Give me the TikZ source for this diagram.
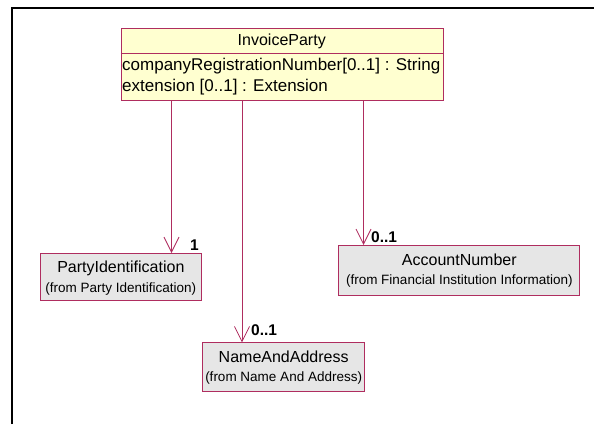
\documentclass[tikz,border=0pt]{standalone}
\usepackage{fontspec}
\setmainfont{Liberation Sans}
\usetikzlibrary{arrows.meta}
\definecolor{umlborder}{RGB}{175,45,95}
\definecolor{umlyellow}{RGB}{255,255,208}
\definecolor{umlgray}{RGB}{230,230,230}
\begin{document}
\begin{tikzpicture}[x=1pt,y=-1pt,
  classbox/.style={draw=umlborder, line width=1pt, anchor=north west, inner sep=0pt},
  nametext/.style={font=\fontsize{16}{16}\selectfont, inner sep=0pt},
  fromtext/.style={font=\fontsize{13.5}{13.5}\selectfont, inner sep=0pt},
  attrtext/.style={font=\fontsize{17}{17}\selectfont, inner sep=0pt, anchor=west},
  multtext/.style={font=\bfseries\fontsize{15.5}{15.5}\selectfont, inner sep=0pt, anchor=west},
  assoc/.style={draw=umlborder, line width=0.8pt, -{Straight Barb[length=15pt,width=15pt,line width=0.8pt]}}]
\useasboundingbox (0,0) rectangle (594,424);
\draw[line width=2pt] (11.5,424) -- (11.5,7.5) -- (594,7.5);

% InvoiceParty
\node[classbox, fill=umlyellow, minimum width=322.5pt, minimum height=72.5pt] (ip) at (120.5,27.5) {};
\draw[umlborder, line width=1pt] (ip.north west |- 0,53) -- (ip.north east |- 0,53);
\node[nametext] (ipname) at (281.75,41) {InvoiceParty};
\node[attrtext] (ipa1) at (122,66) {companyRegistrationNumber[0..1] : String};
\node[attrtext] (ipa2) at (122,87) {extension [0..1] : Extension};

% PartyIdentification
\node[classbox, fill=umlgray, minimum width=160.7pt, minimum height=47pt] (pi) at (40,253) {};
\node[nametext] (piname) at (pi.center |- 0,268) {PartyIdentification};
\node[fromtext] (pifrom) at (pi.center |- 0,289) {(from Party Identification)};

% AccountNumber
\node[classbox, fill=umlgray, minimum width=241pt, minimum height=50pt] (an) at (338.3,245) {};
\node[nametext] (anname) at (an.center |- 0,260) {AccountNumber};
\node[fromtext] (anfrom) at (an.center |- 0,281) {(from Financial Institution Information)};

% NameAndAddress
\node[classbox, fill=umlgray, minimum width=161.7pt, minimum height=48.7pt] (na) at (202.3,342.3) {};
\node[nametext] (naname) at (na.center |- 0,357) {NameAndAddress};
\node[fromtext] (nafrom) at (na.center |- 0,378) {(from Name And Address)};

% connectors
\coordinate (x1) at (171.5,0);
\coordinate (x2) at (242,0);
\coordinate (x3) at (363.5,0);
\draw[assoc] (ip.south -| x1) -- (pi.north -| x1);
\draw[assoc] (ip.south -| x2) -- (na.north -| x2);
\draw[assoc] (ip.south -| x3) -- (an.north -| x3);

\node[multtext] (m1) at (190,245) {1};
\node[multtext] (m2) at (251,330) {0..1};
\node[multtext] (m3) at (371,237) {0..1};
\end{tikzpicture}
\end{document}
